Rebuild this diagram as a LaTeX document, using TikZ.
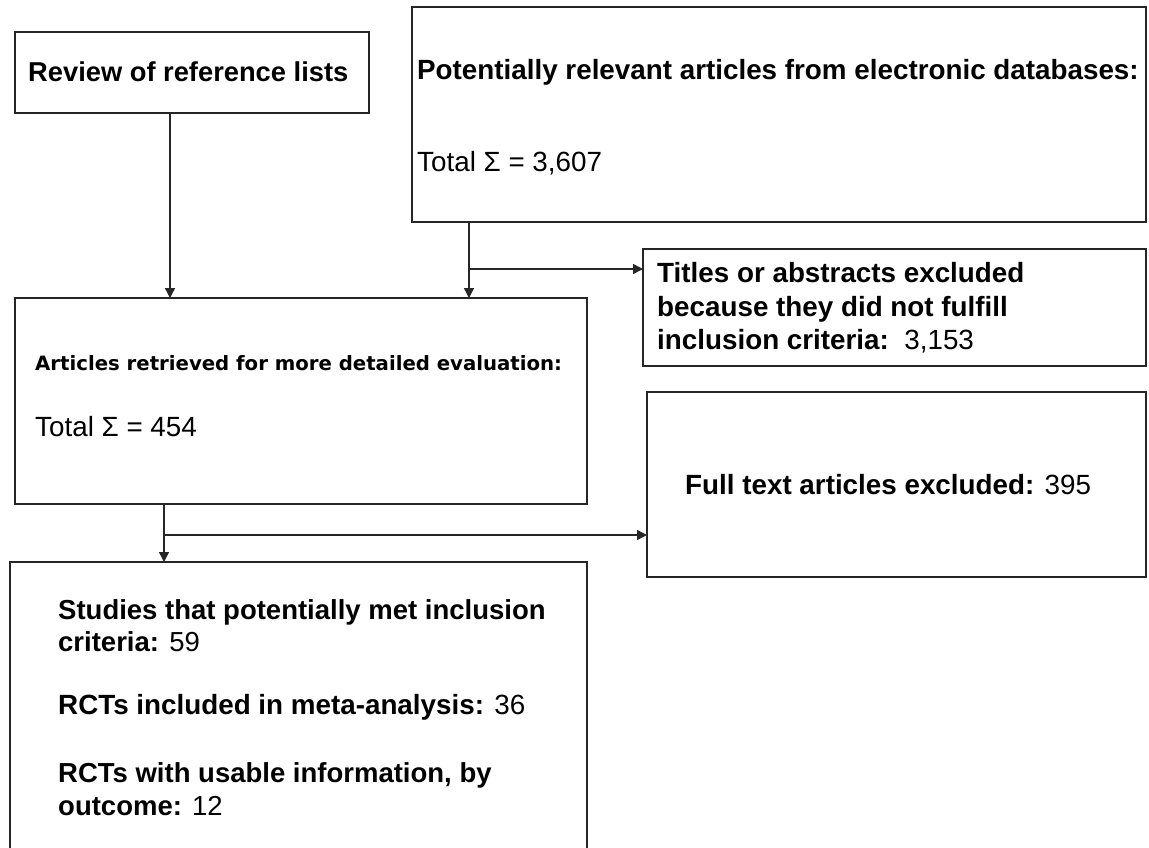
\documentclass[tikz,border=0pt]{standalone}
\usepackage{fontspec}
\setmainfont{Liberation Sans}
\newfontfamily\verdanaish{DejaVu Sans}
\usetikzlibrary{arrows.meta}
\begin{document}
\begin{tikzpicture}[x=1pt,y=-1pt,
  box/.style={draw=black!85, line width=1.4pt, inner sep=0pt, outer sep=0pt, anchor=north west, fill=white},
  lbl/.style={inner sep=0pt, anchor=west, align=left, font=\fontsize{27.8}{33}\selectfont},
  arr/.style={draw=black!85, line width=1.4pt, -{Triangle[length=10pt,width=10pt]}},
  ln/.style={draw=black!85, line width=1.4pt}]
\useasboundingbox (0,0) rectangle (1149,847);
\clip (0,0) rectangle (1149,847);
% boxes
\node[box, minimum width=354pt, minimum height=81pt] (A) at (15,32) {};
\node[box, minimum width=734pt, minimum height=215pt] (B) at (412,7) {};
\node[box, minimum width=503pt, minimum height=117pt] (C) at (643,249) {};
\node[box, minimum width=572pt, minimum height=206pt] (D) at (15,298) {};
\node[box, minimum width=499pt, minimum height=185pt] (F) at (647,392) {};
\node[box, minimum width=577pt, minimum height=320pt] (E) at (10,562) {};
% texts
\node[lbl, font=\fontsize{27.3}{33}\selectfont] (At) at (28,72) {\bfseries Review of reference lists};
\node[lbl] (Bt1) at (417,72) {\bfseries Potentially relevant articles from electronic databases:};
\node[lbl] (Bt2) at (417,163) {Total Σ = 3,607};
\node[lbl, font=\fontsize{27.8}{33.5}\selectfont] (Ct) at (657,308) {\bfseries Titles or abstracts excluded\\ \bfseries because they did not fulfill\\ \textbf{inclusion criteria:}\ \ 3,153};
\node[lbl, font=\verdanaish\bfseries\fontsize{19.7}{24}\selectfont] (Dt1) at (35,363) {Articles retrieved for more detailed evaluation:};
\node[lbl] (Dt2) at (35,427) {Total Σ = 454};
\node[lbl] (Ft) at (685,485) {\textbf{Full text articles excluded:} 395};
\node[lbl, font=\fontsize{27.5}{32}\selectfont] (Et1) at (58,626) {\textbf{Studies that potentially met inclusion}\\ \textbf{criteria:} 59};
\node[lbl] (Et2) at (58,707) {\textbf{RCTs included in meta-analysis:} 36};
\node[lbl, font=\fontsize{27.5}{33}\selectfont] (Et3) at (58,789.5) {\textbf{RCTs with usable information, by}\\ \textbf{outcome:} 12};
% connectors
\coordinate (a1) at (170,0);
\coordinate (b1) at (469,269);
\coordinate (d1) at (164,535);
\draw[arr] (A.south -| a1) -- (D.north -| a1);
\draw[arr] (B.south -| b1) -- (D.north -| b1);
\draw[arr] (b1) -- (b1 -| C.west);
\draw[arr] (D.south -| d1) -- (E.north -| d1);
\draw[arr] (d1) -- (d1 -| F.west);
\end{tikzpicture}
\end{document}
